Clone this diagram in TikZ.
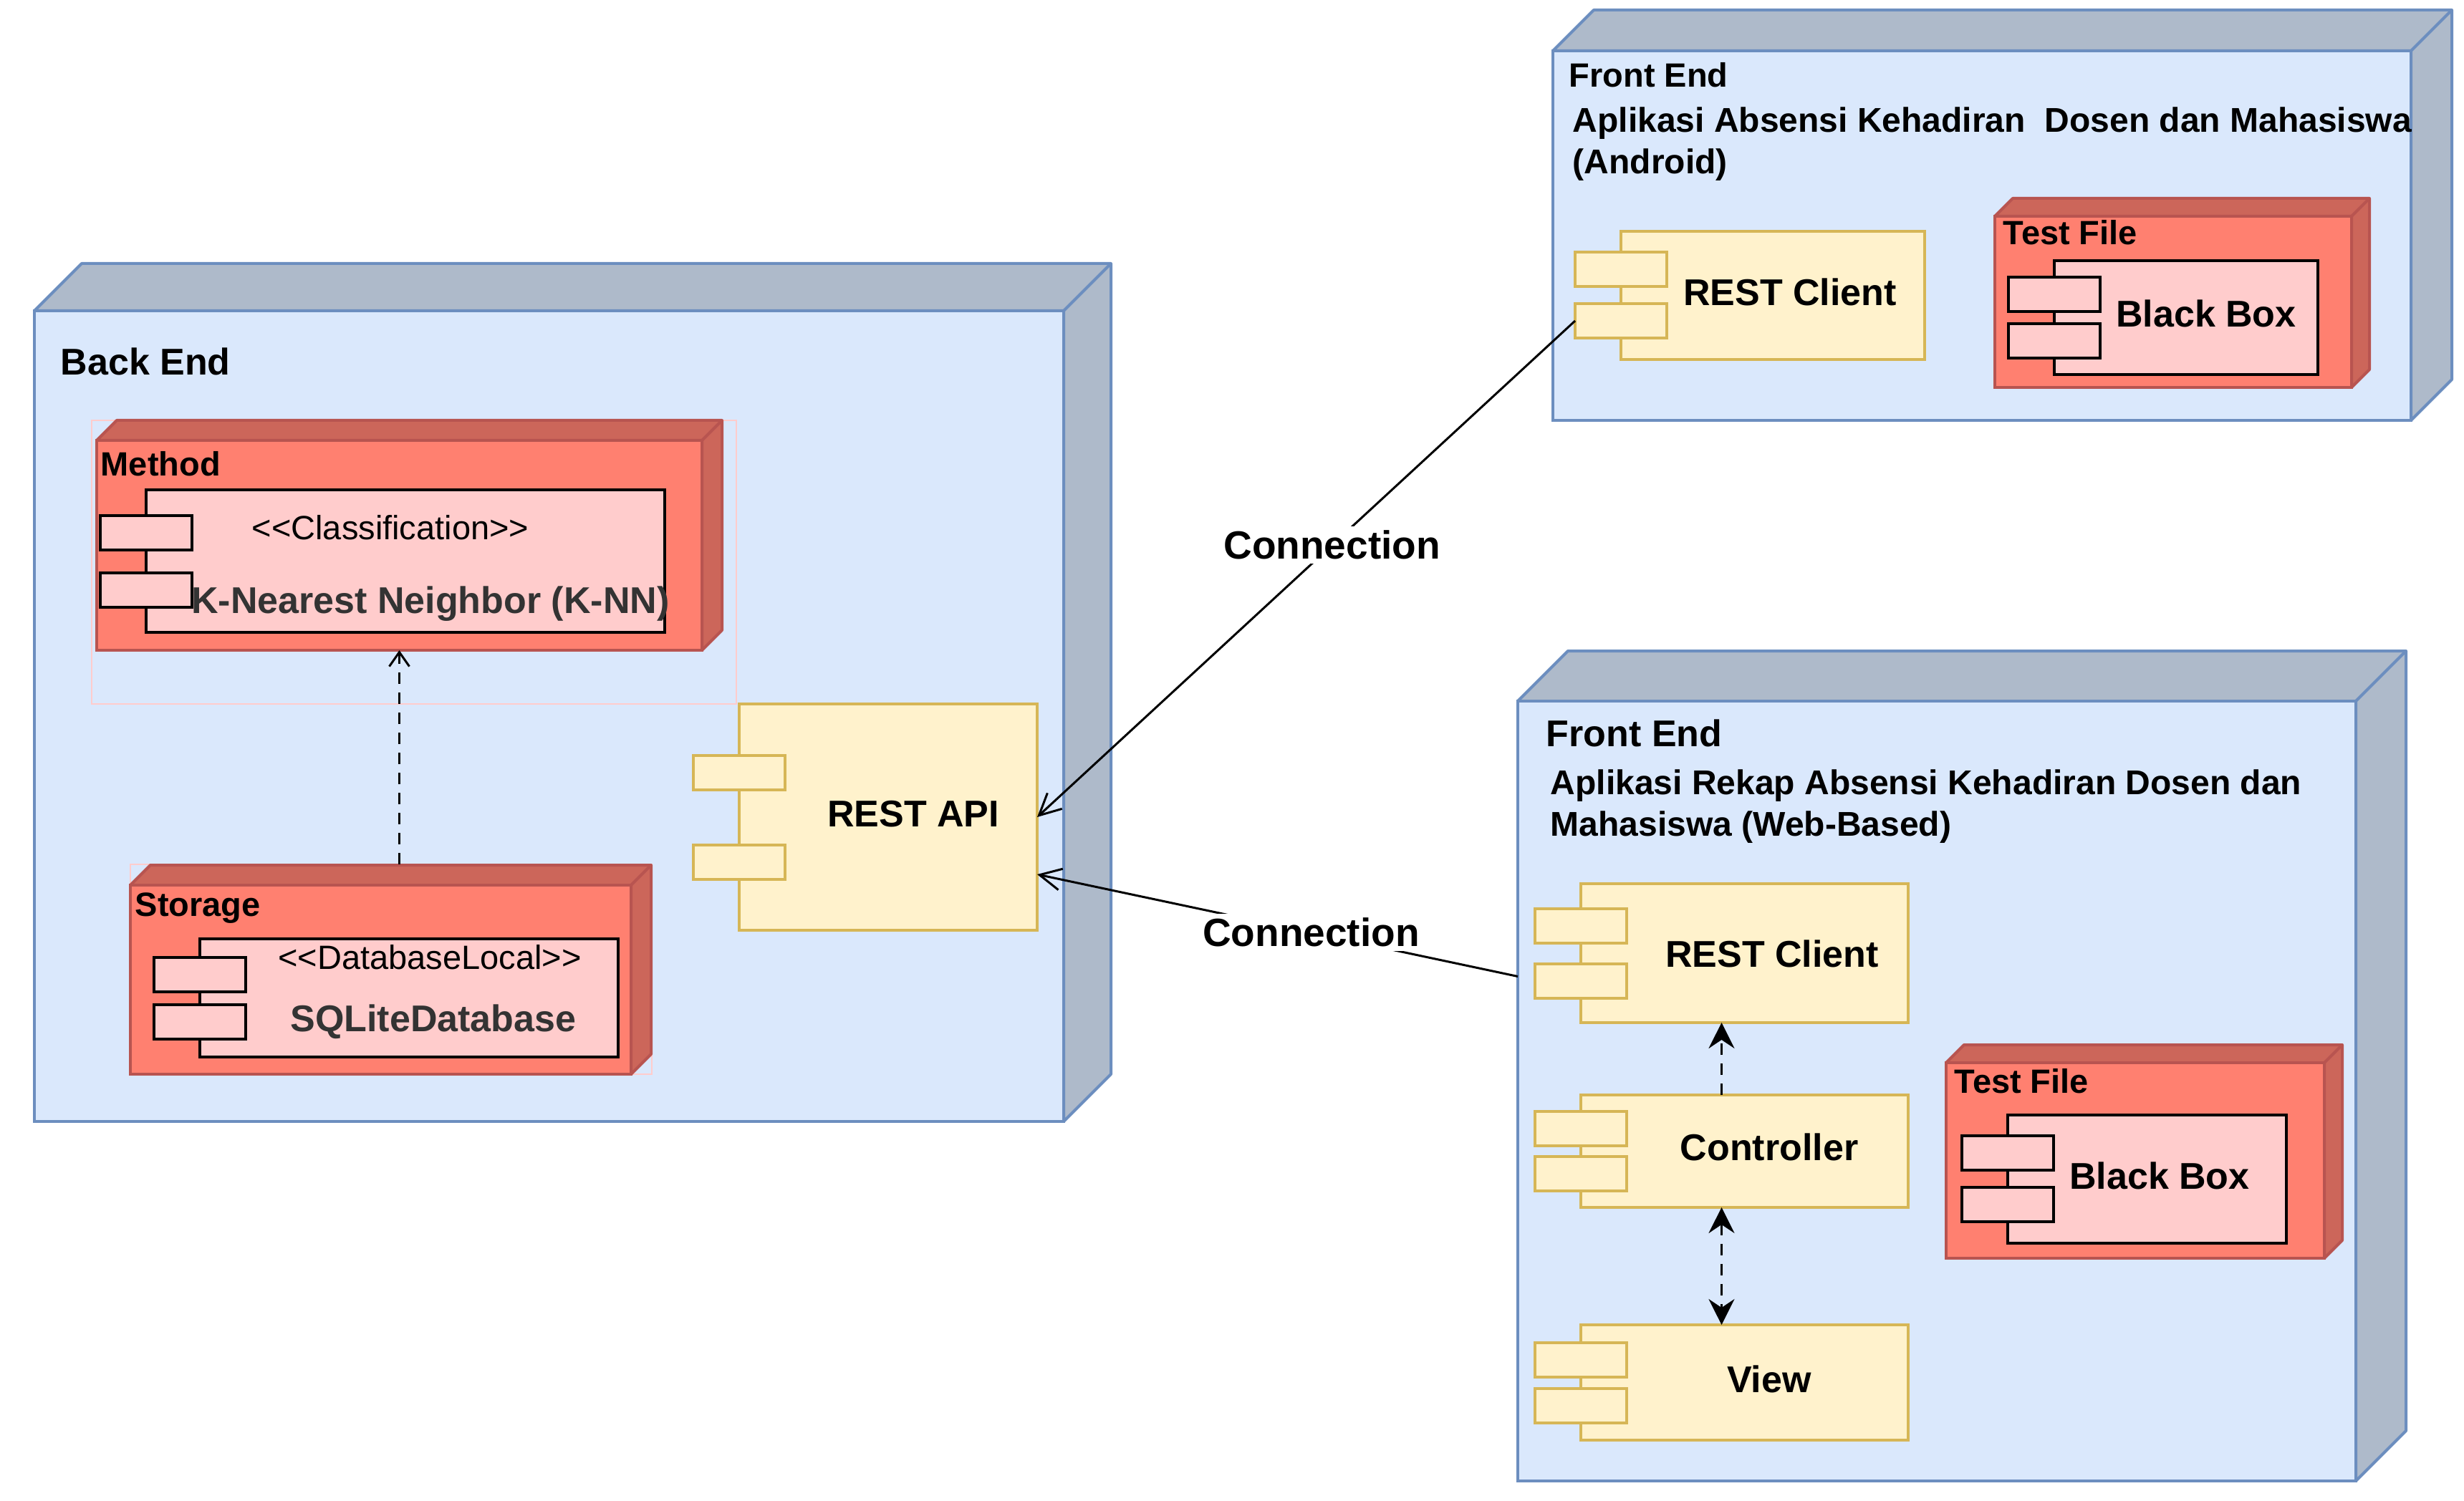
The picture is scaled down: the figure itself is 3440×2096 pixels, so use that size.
\documentclass[tikz,border=0pt]{standalone}
\usepackage{fontspec}
\setmainfont{Liberation Sans}
\usetikzlibrary{arrows.meta,fit}
\definecolor{nodeblue}{HTML}{DAE8FC}
\definecolor{nodebluesh}{HTML}{AEBACA}
\definecolor{nodebluestroke}{HTML}{6C8EBF}
\definecolor{nodered}{HTML}{FF8070}
\definecolor{noderedsh}{HTML}{CC665A}
\definecolor{noderedstroke}{HTML}{B85450}
\definecolor{comppink}{HTML}{FFCCCC}
\definecolor{compyel}{HTML}{FFF2CC}
\definecolor{compyelstroke}{HTML}{D6B656}
\definecolor{txtgray}{HTML}{333333}
\tikzset{
  blueshade/.style={fill=nodebluesh, draw=nodebluestroke, line width=1pt, line join=round},
  bluefront/.style={fill=nodeblue, draw=nodebluestroke, line width=1pt, inner sep=0pt, outer sep=0pt},
  redshade/.style={fill=noderedsh, draw=noderedstroke, line width=1pt, line join=round},
  redfront/.style={fill=nodered, draw=noderedstroke, line width=1pt, inner sep=0pt, outer sep=0pt},
  pinkcomp/.style={fill=comppink, draw=black, line width=0.85pt, inner sep=0pt, outer sep=0pt},
  yelcomp/.style={fill=compyel, draw=compyelstroke, line width=0.85pt, inner sep=0pt, outer sep=0pt},
  grpframe/.style={draw=comppink, line width=0.6pt, inner sep=0pt, outer sep=0pt},
  bigb/.style={font=\fontsize{13pt}{15.6pt}\selectfont\bfseries, inner sep=0pt},
  midb/.style={font=\fontsize{11.75pt}{14.5pt}\selectfont\bfseries, inner sep=0pt},
  descb/.style={font=\fontsize{12pt}{14.6pt}\selectfont\bfseries, inner sep=0pt},
  midr/.style={font=\fontsize{11.75pt}{14.5pt}\selectfont, inner sep=0pt},
  connlbl/.style={font=\fontsize{13.75pt}{16pt}\selectfont\bfseries, fill=white, inner sep=1.5pt},
  conn/.style={line width=0.75pt, -{Straight Barb[length=7.5pt,width=7.5pt]}},
  depopen/.style={line width=0.75pt, dash pattern=on 4pt off 3pt, -{Straight Barb[length=5pt,width=7pt]}},
  depfill/.style={line width=0.75pt, dash pattern=on 4pt off 3pt, -{Stealth[length=9pt,width=9pt,inset=3pt]}},
  depboth/.style={line width=0.75pt, dash pattern=on 4pt off 3pt, {Stealth[length=9pt,width=9pt,inset=3pt]}-{Stealth[length=9pt,width=9pt,inset=3pt]}}
}
% #1 name, #2 x1, #3 y1, #4 x2, #5 y2, #6 depth, #7 colour prefix
\newcommand{\threedbox}[7]{%
  \filldraw[#7shade] (#2,#3) -- (#2+#6,#3-#6) -- (#4+#6,#3-#6) -- (#4+#6,#5-#6) -- (#4,#5) -- (#4,#3) -- cycle;
  \draw[#7shade, fill=none] (#4,#3) -- (#4+#6,#3-#6);
  \node[#7front, fit={(#2,#3) (#4,#5)}] (#1) {};
}
% #1 name, #2 style prefix, #3 x1, #4 y1, #5 x2, #6 y2, #7 port1 top, #8 port2 top
\newcommand{\compbox}[8]{%
  \node[#2comp, fit={(#3,#4) (#5,#6)}] (#1) {};
  \node[#2comp, fit={(#3-64,#7) (#3+64,#7+48)}] (#1-p1) {};
  \node[#2comp, fit={(#3-64,#8) (#3+64,#8+48)}] (#1-p2) {};
}
\begin{document}
\begin{tikzpicture}[x=0.25pt, y=-0.25pt]
\useasboundingbox (0,0) rectangle (3440,2096);
\fill[white] (0,0) rectangle (3440,2096);

% ---------------- Back End ----------------
\threedbox{be}{48}{434}{1485}{1566}{66}{blue}
\node[bigb, anchor=west] (be-t) at (84,505) {Back End};

\node[grpframe, fit={(128,587) (1028,983)}] (methgrp) {};
\threedbox{meth}{135}{615}{980}{908}{28}{red}
\node[midb, anchor=west] (meth-t) at (140,648) {Method};
\compbox{knn}{pink}{204}{684}{928}{883}{720}{800}
\node[midr] (knn-s) at (545,737) {<{}<Classification>{}>};
\node[bigb, text=txtgray] (knn-t) at (601,843) {K-Nearest Neighbor (K-NN)};

\node[grpframe, fit={(182,1207) (910,1500)}] (stogrp) {};
\threedbox{sto}{182}{1236}{881}{1500}{28}{red}
\node[midb, anchor=west] (sto-t) at (188,1268) {Storage};
\compbox{sql}{pink}{279}{1311}{863}{1476}{1337}{1403}
\node[midr] (sql-s) at (600,1337) {<{}<DatabaseLocal>{}>};
\node[bigb, text=txtgray] (sql-t) at (605,1427) {SQLiteDatabase};

\compbox{api}{yel}{1032}{983}{1448}{1299}{1055}{1180}
\node[bigb] (api-t) at (1275,1137) {REST API};

% ---------------- Front End (Android) ----------------
\threedbox{fea}{2168}{71}{3366}{587}{57}{blue}
\node[midb, anchor=west] (fea-t) at (2190,105) {Front End};
\node[descb, anchor=west, align=left] (fea-d) at (2195,201) {Aplikasi Absensi Kehadiran~ Dosen dan Mahasiswa\\(Android)};
\compbox{rca}{yel}{2263}{323}{2687}{502}{352}{424}
\node[bigb] (rca-t) at (2499,408) {REST Client};
\threedbox{tfa}{2785}{302}{3283}{541}{25}{red}
\node[midb, anchor=west] (tfa-t) at (2796,325) {Test File};
\compbox{bba}{pink}{2868}{364}{3236}{523}{387}{452}
\node[bigb] (bba-t) at (3080,438) {Black Box};

% ---------------- Front End (Web) ----------------
\threedbox{few}{2119}{979}{3289}{2068}{70}{blue}
\node[bigb, anchor=west] (few-t) at (2158,1024) {Front End};
\node[descb, anchor=west, align=left] (few-d) at (2164,1126) {Aplikasi Rekap Absensi Kehadiran Dosen dan\\Mahasiswa (Web-Based)};
\compbox{rcw}{yel}{2207}{1234}{2664}{1428}{1269}{1346}
\node[bigb] (rcw-t) at (2474,1332) {REST Client};
\compbox{ctrl}{yel}{2207}{1529}{2664}{1686}{1552}{1615}
\node[bigb] (ctrl-t) at (2470,1602) {Controller};
\compbox{view}{yel}{2207}{1850}{2664}{2011}{1875}{1939}
\node[bigb] (view-t) at (2470,1926) {View};
\threedbox{tfw}{2717}{1484}{3245}{1757}{25}{red}
\node[midb, anchor=west] (tfw-t) at (2728,1510) {Test File};
\compbox{bbw}{pink}{2803}{1557}{3192}{1736}{1586}{1658}
\node[bigb] (bbw-t) at (3015,1642) {Black Box};

% ---------------- Connectors ----------------
\draw[depopen] (meth.south |- stogrp.north) -- (meth.south);
\draw[depfill] ([xshift=-8pt]ctrl.north) -- ([xshift=-8pt]rcw.south);
\draw[depboth] ([xshift=-8pt]ctrl.south) -- ([xshift=-8pt]view.north);
\draw[conn] (rca-p2.west) -- node[connlbl, pos=0.452] {Connection} (api.east);
\draw[conn] ([yshift=40pt]few.west) -- node[connlbl, pos=0.43] {Connection} ([yshift=-20pt]api.east);
\end{tikzpicture}
\end{document}
